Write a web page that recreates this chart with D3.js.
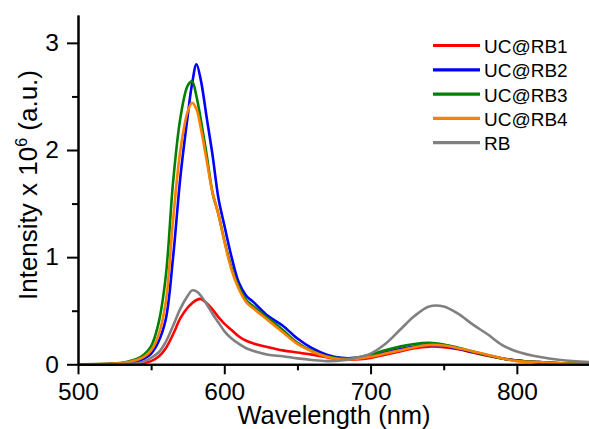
<!DOCTYPE html>
<html>
<head>
<meta charset="utf-8">
<script src="https://cdn.jsdelivr.net/npm/d3@7"></script>
<style>
    body { margin: 0; background: #fff; }
    svg { display: block; font-family: "Liberation Sans", Arial, sans-serif; }
    .axis path, .axis line { stroke: #000; stroke-width: 2px; }
    .axis text { font-size: 24.5px; fill: #000; }
    .curve { fill: none; stroke-width: 2.6px; stroke-linejoin: round; }
</style>
</head>
<body>
<div class="graph"></div>
<script>
// wavelength grid (nm)
var wavelength = [500, 520, 530, 540, 545, 550, 555, 560, 565, 570,
    575, 578, 581, 584, 588, 592, 596, 600, 605, 610,
    615, 620, 630, 640, 650, 660, 670, 680, 690, 700,
    710, 720, 730, 740, 750, 760, 770, 780, 790, 800,
    815, 830, 850];

// intensities x 10^6
var ucRB1 = [0, 0, 0.002, 0.005, 0.012, 0.03, 0.07, 0.15, 0.28, 0.43,
    0.53, 0.57, 0.6, 0.61, 0.57, 0.51, 0.44, 0.38, 0.32, 0.26,
    0.22, 0.195, 0.16, 0.13, 0.11, 0.09, 0.065, 0.045, 0.045, 0.06,
    0.09, 0.12, 0.15, 0.165, 0.16, 0.14, 0.11, 0.08, 0.055, 0.035,
    0.02, 0.01, 0.005];
var ucRB2 = [0, 0.003, 0.008, 0.025, 0.05, 0.1, 0.21, 0.42, 1.0, 1.75,
    2.32, 2.62, 2.8, 2.65, 2.3, 1.95, 1.55, 1.3, 1.0, 0.76,
    0.64, 0.58, 0.45, 0.36, 0.24, 0.15, 0.09, 0.06, 0.06, 0.08,
    0.11, 0.14, 0.165, 0.18, 0.17, 0.145, 0.115, 0.085, 0.055, 0.035,
    0.02, 0.01, 0.005];
var ucRB3 = [0, 0.005, 0.015, 0.05, 0.09, 0.17, 0.38, 0.82, 1.7, 2.3,
    2.6, 2.64, 2.5, 2.28, 1.95, 1.6, 1.4, 1.16, 0.9, 0.72,
    0.6, 0.54, 0.43, 0.32, 0.2, 0.125, 0.075, 0.055, 0.06, 0.09,
    0.13, 0.165, 0.19, 0.2, 0.185, 0.155, 0.12, 0.085, 0.055, 0.035,
    0.02, 0.01, 0.005];
var ucRB4 = [0, 0.004, 0.012, 0.04, 0.07, 0.13, 0.27, 0.58, 1.35, 2.0,
    2.36, 2.44, 2.38, 2.2, 1.9, 1.6, 1.4, 1.15, 0.88, 0.7,
    0.58, 0.52, 0.41, 0.3, 0.19, 0.12, 0.07, 0.045, 0.05, 0.07,
    0.1, 0.13, 0.16, 0.18, 0.175, 0.15, 0.12, 0.09, 0.055, 0.03,
    0.02, 0.01, 0.005];
var rb = [0, 0, 0.003, 0.01, 0.025, 0.06, 0.11, 0.21, 0.36, 0.52,
    0.64, 0.69, 0.68, 0.64, 0.56, 0.47, 0.39, 0.31, 0.24, 0.19,
    0.15, 0.125, 0.09, 0.075, 0.055, 0.04, 0.03, 0.035, 0.06, 0.1,
    0.19, 0.32, 0.45, 0.54, 0.54, 0.47, 0.37, 0.28, 0.18, 0.12,
    0.07, 0.04, 0.02];

var seriesNames = ["UC@RB1", "UC@RB2", "UC@RB3", "UC@RB4", "RB"];
var seriesColors = ["#ff0000", "#0000ff", "#008000", "#ff8000", "#808080"];
var xMajor = [500, 600, 700, 800];
var xMinor = [550, 650, 750];
var yMajor = [0, 1, 2, 3];
var yMinor = [0.5, 1.5, 2.5];

var series = [ucRB1, ucRB2, ucRB3, ucRB4, rb].map(function(vals, i) {
    return {
        name: seriesNames[i],
        color: seriesColors[i],
        values: vals.map(function(v, j) { return { x: wavelength[j], y: v }; })
    };
});

var w = 589, h = 429;
var svg = d3.select(".graph").append("svg")
    .attr("width", w)
    .attr("height", h);

var x = d3.scaleLinear().domain([500, 850]).range([78, 590]);
var y = d3.scaleLinear().domain([0, 3.26]).range([364.3, 15]);

var line = d3.line()
    .x(function(d) { return x(d.x); })
    .y(function(d) { return y(Math.max(d.y, 0)); })
    .curve(d3.curveCatmullRom.alpha(0.5));

// curves (drawn in legend order, later ones on top)
svg.selectAll(".curve")
    .data(series)
    .enter()
    .append("path")
    .attr("class", "curve")
    .attr("stroke", function(d) { return d.color; })
    .attr("d", function(d) { return line(d.values); });

// x axis
svg.append("g")
    .attr("class", "axis")
    .attr("transform", "translate(0," + y(0) + ")")
    .call(d3.axisBottom(x).tickValues(xMajor).tickSize(10).tickSizeOuter(0).tickPadding(8));
svg.append("g")
    .attr("class", "axis")
    .attr("transform", "translate(0," + y(0) + ")")
    .call(d3.axisBottom(x).tickValues(xMinor).tickSize(6).tickSizeOuter(0).tickFormat(""));

// y axis
svg.append("g")
    .attr("class", "axis")
    .attr("transform", "translate(" + x(500) + ",0)")
    .call(d3.axisLeft(y).tickValues(yMajor).tickSize(11).tickSizeOuter(0).tickPadding(8)
        .tickFormat(d3.format("d")));
svg.append("g")
    .attr("class", "axis")
    .attr("transform", "translate(" + x(500) + ",0)")
    .call(d3.axisLeft(y).tickValues(yMinor).tickSize(6).tickSizeOuter(0).tickFormat(""));

// axis titles
svg.append("text")
    .attr("x", 334)
    .attr("y", 424)
    .attr("text-anchor", "middle")
    .attr("font-size", "25.5px")
    .text("Wavelength (nm)");

var yt = svg.append("text")
    .attr("transform", "translate(37,185) rotate(-90)")
    .attr("text-anchor", "middle")
    .attr("font-size", "26px");
yt.append("tspan").text("Intensity x 10");
yt.append("tspan").attr("font-size", "16px").attr("dy", -10).text("6");
yt.append("tspan").attr("dy", 10).text(" (a.u.)");

// legend
var legend = svg.selectAll(".legend")
    .data(series)
    .enter()
    .append("g")
    .attr("class", "legend")
    .attr("transform", function(d, i) { return "translate(433," + (45.5 + i * 24.3) + ")"; });

legend.append("line")
    .attr("x1", 0)
    .attr("x2", 47)
    .attr("stroke", function(d) { return d.color; })
    .attr("stroke-width", 3.2);

legend.append("text")
    .attr("x", 51)
    .attr("y", 7.5)
    .attr("font-size", "19px")
    .text(function(d) { return d.name; });
</script>
</body>
</html>
